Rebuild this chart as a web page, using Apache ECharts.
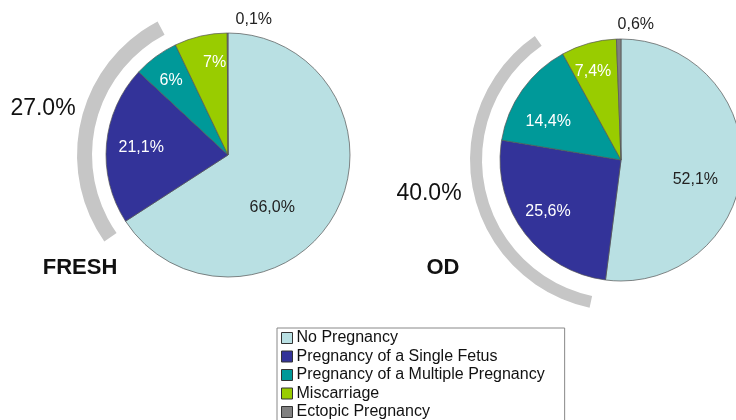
<!DOCTYPE html>
<html>
<head>
<meta charset="utf-8">
<script src="https://cdn.jsdelivr.net/npm/echarts@6/dist/echarts.min.js"></script>
<style>
  html, body { margin: 0; padding: 0; background: #fff; }
  #chart { width: 736px; height: 420px; }
</style>
</head>
<body>
<div id="chart"></div>
<script>
// outcome categories
var categories = ['No Pregnancy', 'Pregnancy of a Single Fetus', 'Pregnancy of a Multiple Pregnancy', 'Miscarriage', 'Ectopic Pregnancy'];
var freshValues = [66.0, 21.1, 6, 7, 0.1];
var odValues = [52.1, 25.6, 14.4, 7.4, 0.6];
var freshLabels = ['66,0%', '21,1%', '6%', '7%', '0,1%'];
var odLabels = ['52,1%', '25,6%', '14,4%', '7,4%', '0,6%'];
// pregnancy rate shown by the grey arc
var groupNames = ['FRESH', 'OD'];
var rateLabels = ['27.0%', '40.0%'];
var arcShares = [27, 37];

var colors = ['#b9e0e3', '#333399', '#009999', '#99cc00', '#808080'];
var labelColors = ['#222', '#fff', '#fff', '#fff', '#222'];
var font = 'Liberation Sans, Arial, sans-serif';

// label nudges from the default inside spot
var freshOffsets = [[-12, 22], [-23, -2], [-19, -23], [1, -30], [26, -71]];
var odOffsets = [[11, 16], [-22, 14], [-21, -2], [-11, -27], [16, -72]];

function pieData(values, labels) {
    var data = [];
    for (var i = 0; i < values.length; i++) {
        data.push({
            name: categories[i],
            value: values[i],
            itemStyle: {color: colors[i]},
            label: {formatter: labels[i], color: labelColors[i]}
        });
    }
    return data;
}

function arcSeries(center, radius, startAngle, share) {
    return {
        type: 'pie',
        silent: true,
        center: center,
        radius: radius,
        startAngle: startAngle,
        clockwise: true,
        label: {show: false},
        labelLine: {show: false},
        data: [
            {name: 'arc', value: share, itemStyle: {color: '#c6c6c6'}},
            {name: 'rest', value: 100 - share, itemStyle: {color: 'rgba(0,0,0,0)'}}
        ]
    };
}

function mainPie(center, radius, values, labels, offsets) {
    return {
        type: 'pie',
        silent: true,
        center: center,
        radius: [0, radius],
        startAngle: 90,
        clockwise: true,
        avoidLabelOverlap: false,
        itemStyle: {borderColor: '#555', borderWidth: 0.7},
        label: {
            show: true,
            position: 'inside',
            fontFamily: font,
            fontSize: 16
        },
        labelLine: {show: false},
        labelLayout: function (params) {
            var o = offsets[params.dataIndex];
            return {dx: o[0], dy: o[1]};
        },
        data: pieData(values, labels)
    };
}

function textItem(x, y, text, size, weight) {
    return {
        type: 'text',
        x: x,
        y: y,
        style: {
            text: text,
            font: weight + ' ' + size + 'px ' + font,
            fill: '#111',
            align: 'center',
            verticalAlign: 'middle'
        }
    };
}

var option = {
    animation: false,
    legend: {
        orient: 'vertical',
        left: 277,
        top: 328,
        height: 120,
        data: categories,
        icon: 'rect',
        itemWidth: 11,
        itemHeight: 11,
        itemGap: 2.5,
        padding: [2, 20, 4, 4],
        borderColor: '#888',
        borderWidth: 1,
        selectedMode: false,
        itemStyle: {borderColor: '#333', borderWidth: 1},
        textStyle: {fontFamily: font, fontSize: 16, lineHeight: 16, color: '#111', padding: [0, 0, 0, -1]}
    },
    graphic: [
        textItem(43, 109, rateLabels[0], 23, 'normal'),
        textItem(429, 194, rateLabels[1], 23, 'normal'),
        textItem(80, 268, groupNames[0], 22, 'bold'),
        textItem(443, 268, groupNames[1], 22, 'bold')
    ],
    series: [
        arcSeries([228, 155], [136, 151], 215, arcShares[0]),
        arcSeries([621, 160], [139, 151], 258, arcShares[1]),
        mainPie([228, 155], 122, freshValues, freshLabels, freshOffsets),
        mainPie([621, 160], 121, odValues, odLabels, odOffsets)
    ]
};

var chart = echarts.init(document.getElementById('chart'));
chart.setOption(option);
</script>
</body>
</html>
